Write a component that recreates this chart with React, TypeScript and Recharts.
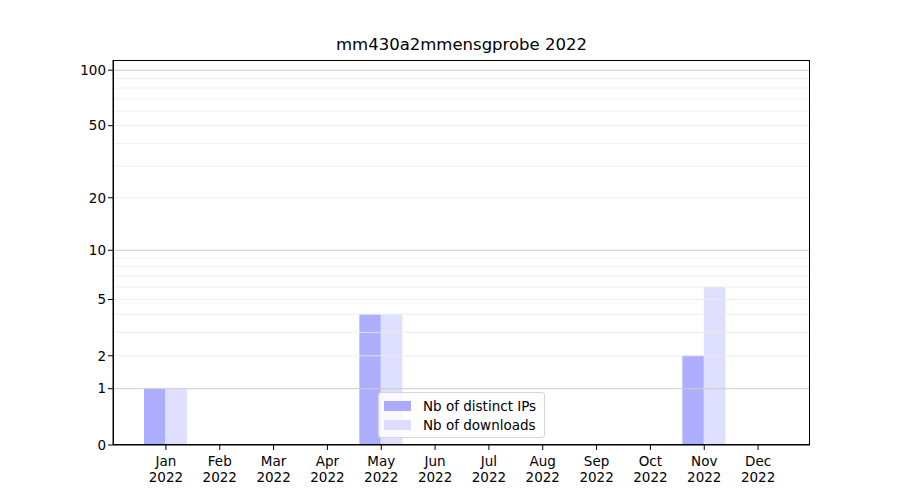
import { BarChart, Bar, XAxis, YAxis, ReferenceLine } from "recharts";

const months = ["Jan", "Feb", "Mar", "Apr", "May", "Jun", "Jul", "Aug", "Sep", "Oct", "Nov", "Dec"];
const distinctIps = [1, 0, 0, 0, 4, 0, 0, 0, 0, 0, 2, 0];
const downloads = [1, 0, 0, 0, 4, 0, 0, 0, 0, 0, 6, 0];
const year = "2022";

const yTicks = [0, 1, 2, 5, 10, 20, 50, 100];
const majorGrid = [1, 10, 100];
const minorGrid = [2, 3, 4, 5, 6, 7, 8, 9, 20, 30, 40, 50, 60, 70, 80, 90];
const yMax = 113.5;

// matplotlib-style log(1 + x) axis
const fwd = (v: number) => Math.log10(1 + v);

const data = months.map((m, i) => ({ month: m, ips: distinctIps[i], downloads: downloads[i] }));

const FONT = "'DejaVu Sans', sans-serif";
const IP_COLOR = "#aaaaff";
const DL_COLOR = "#ddddff";

// plot area in page pixels
const PLOT = { left: 113, top: 60, right: 810, bottom: 445 };

function MonthTick({ x, y, payload }: any) {
  return (
    <text x={x} y={y} textAnchor="middle" fontFamily={FONT} fontSize={13.5} fill="#000">
      <tspan x={x} dy={14}>{payload.value}</tspan>
      <tspan x={x} dy={16}>{year}</tspan>
    </text>
  );
}

function LegendBox() {
  const items = [
    { label: "Nb of distinct IPs", color: IP_COLOR },
    { label: "Nb of downloads", color: DL_COLOR },
  ];
  return (
    <div
      style={{
        position: "absolute",
        left: 378,
        top: 392,
        border: "1px solid #d5d5d5",
        borderRadius: 3,
        background: "rgba(255,255,255,0.8)",
        padding: "3px 6px 3px 5px",
        fontFamily: FONT,
        fontSize: 13.5,
        whiteSpace: "nowrap",
        boxSizing: "border-box",
        width: 167,
      }}
    >
      {items.map((it) => (
        <div key={it.label} style={{ display: "flex", alignItems: "center", height: 19 }}>
          <span style={{ display: "inline-block", width: 27, height: 10, background: it.color, marginRight: 12 }} />
          <span>{it.label}</span>
        </div>
      ))}
    </div>
  );
}

export default function App() {
  return (
    <div style={{ position: "absolute", left: 0, top: 0, width: 900, height: 500, background: "#fff" }}>
      <div
        style={{
          position: "absolute",
          left: PLOT.left,
          width: PLOT.right - PLOT.left,
          top: 35,
          textAlign: "center",
          fontFamily: FONT,
          fontSize: 16.5,
        }}
      >
        mm430a2mmensgprobe 2022
      </div>
      <BarChart
        width={900}
        height={500}
        data={data}
        margin={{ top: PLOT.top, right: 900 - PLOT.right, bottom: 5, left: PLOT.left - 60 }}
        barSize={21.5}
        barGap={0}
      >
        <XAxis
          dataKey="month"
          padding={{ left: 26, right: 25 }}
          height={50}
          tick={<MonthTick />}
          tickSize={5}
          interval={0}
          axisLine={{ stroke: "#000" }}
          tickLine={{ stroke: "#000" }}
        />
        <YAxis
          type="number"
          domain={[0, fwd(yMax)]}
          ticks={yTicks.map(fwd)}
          tickFormatter={(v: number) => String(Math.round(Math.pow(10, v) - 1))}
          width={60}
          tickSize={5}
          interval={0}
          allowDataOverflow
          axisLine={{ stroke: "#000" }}
          tickLine={{ stroke: "#000" }}
          tick={{ fill: "#000", fontFamily: FONT, fontSize: 13.5 }}
        />
        {minorGrid.map((v) => (
          <ReferenceLine key={"mn" + v} y={fwd(v)} stroke="#ebebeb" strokeWidth={0.8} />
        ))}
        {majorGrid.map((v) => (
          <ReferenceLine key={"mj" + v} y={fwd(v)} stroke="#cccccc" strokeWidth={1} />
        ))}
        <Bar dataKey={(d: any) => fwd(d.ips)} name="Nb of distinct IPs" fill={IP_COLOR} fillOpacity={0.95} isAnimationActive={false} />
        <Bar dataKey={(d: any) => fwd(d.downloads)} name="Nb of downloads" fill={DL_COLOR} fillOpacity={0.95} isAnimationActive={false} />
      </BarChart>
      <div
        style={{
          position: "absolute",
          left: PLOT.left,
          top: PLOT.top,
          width: PLOT.right - PLOT.left,
          height: PLOT.bottom - PLOT.top,
          border: "1px solid #000",
          boxSizing: "border-box",
          pointerEvents: "none",
        }}
      />
      <LegendBox />
    </div>
  );
}
